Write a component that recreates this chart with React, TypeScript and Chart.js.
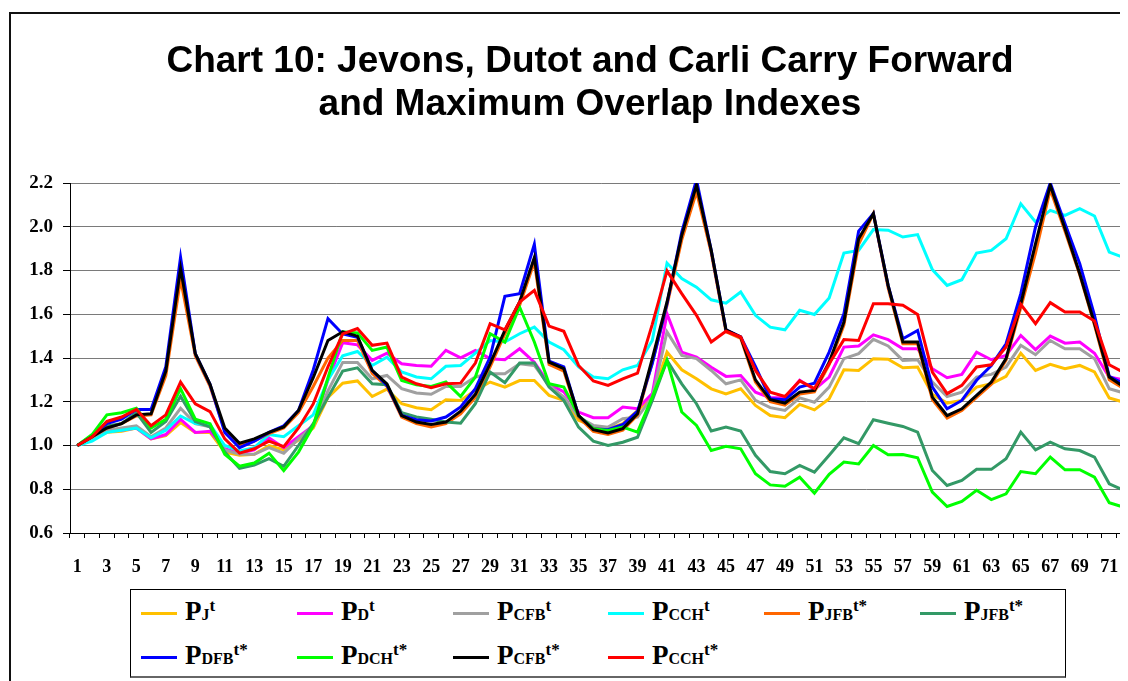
import React, { useEffect, useRef } from "react";
import { Chart, registerables } from "chart.js";

Chart.register(...registerables);

const categories = [
  "1","2","3","4","5","6","7","8","9","10","11","12","13","14","15","16","17","18","19","20",
  "21","22","23","24","25","26","27","28","29","30","31","32","33","34","35","36","37","38","39","40",
  "41","42","43","44","45","46","47","48","49","50","51","52","53","54","55","56","57","58","59","60",
  "61","62","63","64","65","66","67","68","69","70","71","72",
];

const yTicks = [0.6, 0.8, 1.0, 1.2, 1.4, 1.6, 1.8, 2.0, 2.2];

const pJ = [
  1.0, 1.03, 1.06, 1.065, 1.08, 1.03, 1.045, 1.105, 1.06, 1.06, 0.97, 0.955, 0.96, 1.0, 0.98, 1.025, 1.08, 1.22, 1.285, 1.295,
  1.224, 1.258, 1.191, 1.173, 1.164, 1.209, 1.206, 1.252, 1.29, 1.267, 1.297, 1.297, 1.229, 1.206, 1.115, 1.088, 1.077, 1.1, 1.16, 1.221, 1.427, 1.346, 1.305, 1.259, 1.236, 1.259,
  1.183, 1.137, 1.127, 1.188, 1.163, 1.214, 1.346, 1.343, 1.397, 1.394, 1.355, 1.359, 1.234, 1.194, 1.206, 1.267, 1.282, 1.316, 1.422, 1.343, 1.371, 1.351, 1.366, 1.336, 1.217, 1.198,
];
const pD = [
  1.0, 1.03, 1.065, 1.07, 1.08, 1.03, 1.05, 1.12, 1.06, 1.065, 0.985, 0.965, 0.98, 1.035, 0.99, 1.04, 1.09, 1.3, 1.47, 1.46,
  1.389, 1.422, 1.374, 1.366, 1.362, 1.435, 1.401, 1.435, 1.397, 1.392, 1.442, 1.381, 1.282, 1.245, 1.153, 1.127, 1.127, 1.176, 1.168, 1.237, 1.602, 1.427, 1.404, 1.358, 1.316, 1.32,
  1.244, 1.218, 1.218, 1.298, 1.255, 1.313, 1.45, 1.455, 1.506, 1.484, 1.442, 1.442, 1.351, 1.31, 1.325, 1.427, 1.392, 1.412, 1.503, 1.438, 1.5, 1.468, 1.473, 1.422, 1.313, 1.3,
];
const pCFB = [
  1.0, 1.03, 1.07, 1.08, 1.09, 1.04, 1.08, 1.17, 1.1, 1.085, 0.98, 0.96, 0.96, 0.99, 0.965, 1.03, 1.09, 1.25, 1.38, 1.38,
  1.305, 1.32, 1.26, 1.24, 1.234, 1.27, 1.27, 1.313, 1.328, 1.328, 1.374, 1.366, 1.275, 1.221, 1.13, 1.092, 1.084, 1.122, 1.13, 1.221, 1.519, 1.412, 1.397, 1.343, 1.282, 1.3,
  1.206, 1.173, 1.16, 1.218, 1.198, 1.267, 1.397, 1.42, 1.485, 1.455, 1.389, 1.392, 1.29, 1.224, 1.244, 1.313, 1.325, 1.359, 1.458, 1.415, 1.48, 1.442, 1.442, 1.397, 1.26, 1.24,
];
const pCCH = [
  1.0, 1.02, 1.06, 1.07, 1.08, 1.035, 1.07, 1.135, 1.1, 1.095, 1.0, 0.975, 0.99, 1.05, 1.04, 1.09, 1.14, 1.3, 1.41, 1.43,
  1.366, 1.404, 1.336, 1.313, 1.305, 1.362, 1.366, 1.422, 1.48, 1.473, 1.511, 1.541, 1.473, 1.438, 1.359, 1.313, 1.305, 1.346, 1.366, 1.48, 1.834, 1.763, 1.724, 1.666, 1.651, 1.702,
  1.595, 1.541, 1.529, 1.618, 1.599, 1.674, 1.88, 1.892, 1.987, 1.984, 1.953, 1.964, 1.804, 1.732, 1.758, 1.88, 1.892, 1.945, 2.105, 2.022, 2.075, 2.052, 2.083, 2.049, 1.884, 1.859,
];
const pJFBstar = [
  1.0, 1.04, 1.08, 1.1, 1.135, 1.14, 1.32, 1.76, 1.41, 1.27, 1.07, 1.0, 1.02, 1.055, 1.08, 1.15, 1.27, 1.4, 1.48, 1.48,
  1.33, 1.27, 1.13, 1.1, 1.085, 1.1, 1.145, 1.22, 1.36, 1.51, 1.64, 1.84, 1.37, 1.34, 1.13, 1.065, 1.05, 1.07, 1.14, 1.38, 1.64, 1.94, 2.16, 1.88, 1.52, 1.49,
  1.29, 1.2, 1.185, 1.235, 1.245, 1.37, 1.55, 1.92, 2.06, 1.72, 1.465, 1.465, 1.21, 1.125, 1.16, 1.22, 1.28, 1.39, 1.63, 1.88, 2.17, 1.98, 1.78, 1.55, 1.3, 1.26,
];
const pJFBstar2 = [
  1.0, 1.04, 1.09, 1.1, 1.15, 1.06, 1.11, 1.225, 1.11, 1.085, 0.97, 0.895, 0.91, 0.94, 0.905, 1.0, 1.1, 1.22, 1.34, 1.355,
  1.282, 1.278, 1.15, 1.13, 1.12, 1.107, 1.102, 1.191, 1.336, 1.287, 1.377, 1.377, 1.267, 1.206, 1.084, 1.02, 1.0, 1.015, 1.038, 1.206, 1.389, 1.282, 1.191, 1.066, 1.084, 1.066,
  0.955, 0.881, 0.871, 0.909, 0.878, 0.955, 1.035, 1.008, 1.118, 1.102, 1.087, 1.061, 0.886, 0.817, 0.84, 0.891, 0.891, 0.94, 1.061, 0.98, 1.015, 0.985, 0.977, 0.947, 0.825, 0.795,
];
const pDFBstar = [
  1.0, 1.045, 1.1, 1.12, 1.165, 1.165, 1.36, 1.86, 1.42, 1.28, 1.06, 0.99, 1.02, 1.06, 1.09, 1.16, 1.345, 1.58, 1.51, 1.495,
  1.343, 1.275, 1.137, 1.118, 1.112, 1.13, 1.176, 1.26, 1.404, 1.682, 1.694, 1.92, 1.386, 1.359, 1.137, 1.077, 1.072, 1.096, 1.157, 1.374, 1.648, 1.976, 2.215, 1.892, 1.529, 1.496,
  1.362, 1.214, 1.209, 1.267, 1.285, 1.427, 1.602, 1.98, 2.06, 1.732, 1.488, 1.526, 1.267, 1.168, 1.206, 1.298, 1.366, 1.465, 1.694, 1.999, 2.2, 2.014, 1.831, 1.595, 1.316, 1.282,
];
const pDCHstar = [
  1.0, 1.05, 1.14, 1.15, 1.17, 1.08, 1.12, 1.26, 1.12, 1.1, 0.96, 0.905, 0.92, 0.965, 0.885, 0.97, 1.09, 1.31, 1.52, 1.515,
  1.435, 1.45, 1.297, 1.278, 1.27, 1.29, 1.224, 1.313, 1.511, 1.473, 1.633, 1.473, 1.282, 1.267, 1.137, 1.077, 1.069, 1.084, 1.061, 1.221, 1.389, 1.153, 1.092, 0.977, 0.996, 0.985,
  0.871, 0.82, 0.814, 0.855, 0.782, 0.868, 0.924, 0.916, 1.0, 0.958, 0.959, 0.944, 0.787, 0.721, 0.744, 0.795, 0.753, 0.779, 0.881, 0.871, 0.947, 0.889, 0.889, 0.855, 0.738, 0.718,
];
const pCFBstar = [
  1.0, 1.04, 1.08, 1.1, 1.14, 1.145, 1.34, 1.81, 1.42, 1.28, 1.08, 1.01, 1.03, 1.06, 1.085, 1.16, 1.31, 1.48, 1.52, 1.5,
  1.343, 1.282, 1.137, 1.107, 1.096, 1.107, 1.157, 1.234, 1.374, 1.526, 1.656, 1.859, 1.381, 1.351, 1.137, 1.072, 1.057, 1.077, 1.145, 1.397, 1.656, 1.961, 2.19, 1.892, 1.529, 1.496,
  1.3, 1.209, 1.194, 1.244, 1.252, 1.381, 1.564, 1.945, 2.06, 1.732, 1.473, 1.473, 1.221, 1.137, 1.168, 1.229, 1.29, 1.397, 1.648, 1.923, 2.19, 1.991, 1.785, 1.557, 1.313, 1.267,
];
const pCCHstar = [
  1.0, 1.04, 1.11, 1.13, 1.165, 1.09, 1.14, 1.29, 1.19, 1.155, 1.03, 0.965, 0.985, 1.02, 0.995, 1.08, 1.19, 1.36, 1.51, 1.535,
  1.458, 1.468, 1.313, 1.282, 1.264, 1.282, 1.285, 1.377, 1.557, 1.529, 1.656, 1.709, 1.546, 1.522, 1.366, 1.295, 1.275, 1.305, 1.331, 1.554, 1.798, 1.694, 1.595, 1.473, 1.522, 1.496,
  1.343, 1.244, 1.224, 1.295, 1.26, 1.374, 1.484, 1.48, 1.648, 1.648, 1.641, 1.599, 1.336, 1.237, 1.275, 1.359, 1.369, 1.45, 1.645, 1.557, 1.653, 1.61, 1.61, 1.569, 1.369, 1.333,
];

type Series = { sub: string; sup: string; color: string; data: number[] };

const series: Series[] = [
  { sub: "J", sup: "t", color: "#FFC000", data: pJ },
  { sub: "D", sup: "t", color: "#FF00FF", data: pD },
  { sub: "CFB", sup: "t", color: "#A0A0A0", data: pCFB },
  { sub: "CCH", sup: "t", color: "#00FFFF", data: pCCH },
  { sub: "JFB", sup: "t*", color: "#FF6600", data: pJFBstar },
  { sub: "JFB", sup: "t*", color: "#339966", data: pJFBstar2 },
  { sub: "DFB", sup: "t*", color: "#0000FF", data: pDFBstar },
  { sub: "DCH", sup: "t*", color: "#00FF00", data: pDCHstar },
  { sub: "CFB", sup: "t*", color: "#000000", data: pCFBstar },
  { sub: "CCH", sup: "t*", color: "#FF0000", data: pCCHstar },
];

const SERIF = "'Liberation Serif', 'Times New Roman', serif";
const SANS = "'Liberation Sans', Arial, sans-serif";

export default function App() {
  const canvasRef = useRef<HTMLCanvasElement | null>(null);

  useEffect(() => {
    document.documentElement.style.overflow = "hidden";
    const canvas = canvasRef.current;
    if (!canvas) return;
    const n = series.length;
    const chart = new Chart(canvas, {
      type: "line",
      data: {
        labels: categories,
        datasets: series.map((s, i) => ({
          label: "P" + s.sub + s.sup,
          data: s.data,
          borderColor: s.color,
          backgroundColor: s.color,
          borderWidth: 3,
          pointRadius: 0,
          pointHoverRadius: 0,
          tension: 0,
          fill: false,
          order: n - 1 - i,
        })),
      },
      options: {
        responsive: false,
        animation: false,
        devicePixelRatio: 1,
        layout: { padding: { left: 0, right: 3, top: 175, bottom: 98 } },
        plugins: {
          legend: { display: false },
          title: { display: false },
          tooltip: { enabled: false },
        },
        scales: {
          x: {
            type: "category",
            offset: true,
            grid: {
              display: true,
              drawOnChartArea: false,
              drawTicks: true,
              tickLength: 5,
              offset: true,
              color: "#000",
              tickColor: "#000",
            },
            border: { display: true, color: "#000", width: 1 },
            ticks: {
              autoSkip: false,
              maxRotation: 0,
              minRotation: 0,
              color: "#000",
              padding: 19,
              font: { family: SERIF, size: 18, weight: "bold" },
              callback: (_v: any, idx: number) => (idx % 2 === 0 ? categories[idx] : ""),
            },
            afterFit: (s: any) => {
              s.height = 50;
            },
          },
          y: {
            min: yTicks[0],
            max: yTicks[yTicks.length - 1],
            afterBuildTicks: (s: any) => {
              s.ticks = yTicks.map((v) => ({ value: v }));
            },
            grid: {
              color: "#7a7a7a",
              lineWidth: 1,
              tickColor: "#000",
              tickLength: 7,
            },
            border: { display: true, color: "#000", width: 1 },
            ticks: {
              color: "#000",
              padding: 10,
              font: { family: SERIF, size: 19, weight: "bold" },
              callback: (v: any) => Number(v).toFixed(1),
            },
            afterFit: (s: any) => {
              s.width = 62;
            },
          },
        },
      } as any,
    });
    return () => chart.destroy();
  }, []);

  const colX = [10, 166, 322, 477, 633, 789];
  const rowY = [23, 67];

  return (
    <div style={{ position: "relative", width: 1120, height: 673, overflow: "hidden", background: "#fff" }}>
      <div
        style={{
          position: "absolute",
          left: 1,
          top: 4,
          width: 1119,
          height: 669,
          borderLeft: "2px solid #111",
          borderTop: "2px solid #111",
          boxSizing: "border-box",
        }}
      />
      <canvas
        ref={canvasRef}
        width={1135}
        height={673}
        style={{ position: "absolute", left: 0, top: 0, width: 1135, height: 673 }}
      />
      <div
        style={{
          position: "absolute",
          left: 82,
          top: 30,
          width: 1000,
          textAlign: "center",
          fontFamily: SANS,
          fontWeight: "bold",
          fontSize: 37,
          lineHeight: "43px",
          color: "#000",
          whiteSpace: "nowrap",
        }}
      >
        <div>Chart 10: Jevons, Dutot and Carli Carry Forward</div>
        <div>and Maximum Overlap Indexes</div>
      </div>
      <div
        style={{
          position: "absolute",
          left: 122,
          top: 581,
          width: 936,
          height: 89,
          border: "1px solid #000",
          borderBottom: "2px solid #666",
          boxSizing: "border-box",
          background: "#fff",
        }}
      >
        {series.map((s, i) => {
          const col = i % 6;
          const row = Math.floor(i / 6);
          return (
            <div
              key={i}
              style={{
                position: "absolute",
                left: colX[col],
                top: rowY[row] - 16,
                height: 32,
                display: "flex",
                alignItems: "center",
                whiteSpace: "nowrap",
              }}
            >
              <div style={{ width: 36, height: 3, background: s.color, marginRight: 8 }} />
              <span style={{ fontFamily: SERIF, fontWeight: "bold", fontSize: 27, lineHeight: "32px", color: "#000" }}>
                P
                <span style={{ fontSize: 16 }}>{s.sub}</span>
                <span style={{ fontSize: 17, position: "relative", top: -9 }}>{s.sup}</span>
              </span>
            </div>
          );
        })}
      </div>
    </div>
  );
}
